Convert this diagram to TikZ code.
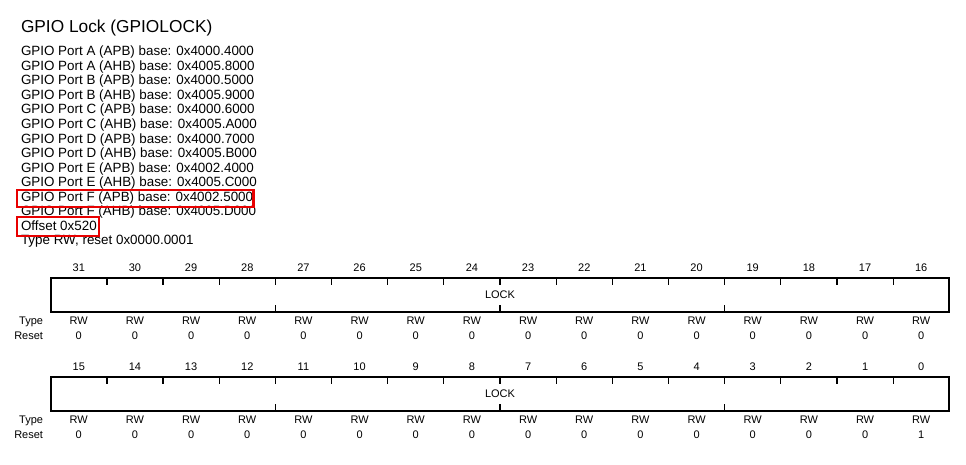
\documentclass[tikz,border=0pt]{standalone}
\usepackage{fontspec}
\setmainfont{Liberation Sans}
\definecolor{boxred}{RGB}{232,0,0}
\begin{document}
\begin{tikzpicture}[x=1pt,y=-1pt,
  every node/.style={inner sep=0pt, outer sep=0pt},
  maintext/.style={anchor=base west, font=\fontsize{13.4}{15}\selectfont},
  small/.style={anchor=base, font=\fontsize{11}{13}\selectfont},
  regbox/.style={draw, line width=1.8pt, minimum width=898.6pt, minimum height=34pt, anchor=north west},
  tick/.style={line width=1.3pt},
  hilite/.style={draw=boxred, line width=2.9pt}]
\useasboundingbox[fill=white] (0,0) rectangle (966,464);
\node[anchor=base west, font=\fontsize{17.3}{20}\selectfont] (title) at (21,32.3) {GPIO Lock (GPIOLOCK)};
\foreach \t [count=\i] in {
  {GPIO Port A (APB) base: 0x4000.4000},
  {GPIO Port A (AHB) base: 0x4005.8000},
  {GPIO Port B (APB) base: 0x4000.5000},
  {GPIO Port B (AHB) base: 0x4005.9000},
  {GPIO Port C (APB) base: 0x4000.6000},
  {GPIO Port C (AHB) base: 0x4005.A000},
  {GPIO Port D (APB) base: 0x4000.7000},
  {GPIO Port D (AHB) base: 0x4005.B000},
  {GPIO Port E (APB) base: 0x4002.4000},
  {GPIO Port E (AHB) base: 0x4005.C000},
  {GPIO Port F (APB) base: 0x4002.5000},
  {GPIO Port F (AHB) base: 0x4005.D000},
  {Offset 0x520},
  {Type RW, reset 0x0000.0001}}
{
  \pgfmathsetmacro{\yy}{55.7+(\i-1)*14.56}
  \node[maintext] (l\i) at (21,\yy) {\t};
}
\draw[hilite] (17,190) rectangle (253.5,207);
\draw[hilite] (17,217) rectangle (99,236);
\foreach \r/\dy/\hi in {0/0/31, 1/99.5/15} {
  \node[regbox] (reg\r) at (50.7,277.7+\dy) {};
  \node[small] (lock\r) at (500,298.3+\dy) {LOCK};
  \foreach \k in {1,...,15} {
    \draw[tick] (50.7+\k*56.1625,277.7+\dy) -- ++(0,7);
  }
  \foreach \k in {4,8,12} {
    \draw[tick] (50.7+\k*56.1625,311.7+\dy) -- ++(0,-7);
  }
  \node[small, anchor=base east] (type\r) at (43,324+\dy) {Type};
  \node[small, anchor=base east] (reset\r) at (43,339+\dy) {Reset};
  \foreach \j in {0,...,15} {
    \pgfmathtruncatemacro{\bit}{\hi-\j}
    \pgfmathsetmacro{\cx}{50.7+(\j+0.5)*56.1625}
    \node[small] (num\r-\j) at (\cx,271+\dy) {\bit};
    \node[small] (rw\r-\j) at (\cx,324+\dy) {RW};
    \node[small] (rv\r-\j) at (\cx,339+\dy) {\ifnum\bit=0 1\else 0\fi};
  }
}
\end{tikzpicture}
\end{document}
